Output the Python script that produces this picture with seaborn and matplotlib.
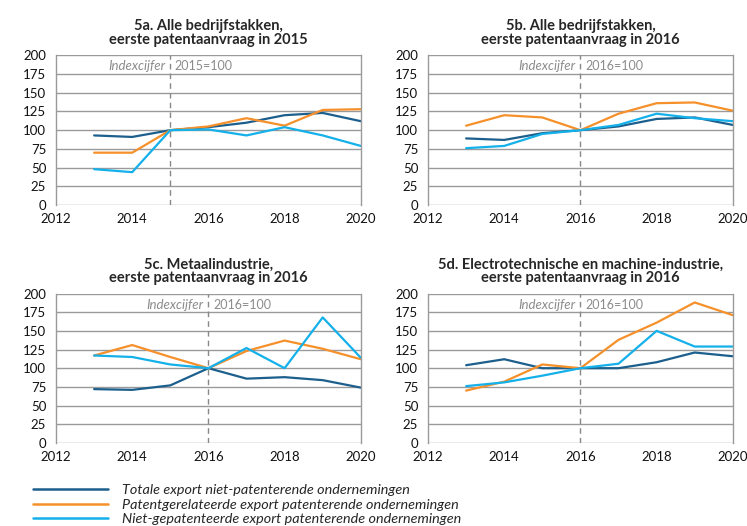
import numpy as np
import pandas as pd
import matplotlib as mpl
mpl.use("Agg")
import matplotlib.pyplot as plt
import seaborn as sns

# data (index, base year = 100)
years = [2013, 2014, 2015, 2016, 2017, 2018, 2019, 2020]
series_names = ['Totale export niet-patenterende ondernemingen',
                'Patentgerelateerde export patenterende ondernemingen',
                'Niet-gepatenteerde export patenterende ondernemingen']

titles = ['5a. Alle bedrijfstakken,\neerste patentaanvraag in 2015',
          '5b. Alle bedrijfstakken,\neerste patentaanvraag in 2016',
          '5c. Metaalindustrie,\neerste patentaanvraag in 2016',
          '5d. Electrotechnische en machine-industrie,\neerste patentaanvraag in 2016']
base_years = [2015, 2016, 2016, 2016]

a_totaal = [93, 91, 100, 104, 110, 120, 123, 112]
a_patent = [70, 70, 100, 105, 116, 106, 127, 128]
a_nietpat = [48, 44, 100, 101, 93, 104, 93, 79]

b_totaal = [89, 87, 96, 100, 105, 115, 117, 107]
b_patent = [106, 120, 117, 100, 122, 136, 137, 126]
b_nietpat = [76, 79, 95, 100, 107, 122, 116, 112]

c_totaal = [72, 71, 77, 100, 86, 88, 84, 74]
c_patent = [117, 131, 115, 100, 123, 137, 126, 112]
c_nietpat = [117, 115, 105, 100, 127, 100, 168, 114]

d_totaal = [104, 112, 100, 100, 100, 108, 121, 116]
d_patent = [70, 82, 105, 100, 138, 161, 188, 171]
d_nietpat = [76, 81, 90, 100, 106, 150, 129, 129]

panels = [(a_totaal, a_patent, a_nietpat),
          (b_totaal, b_patent, b_nietpat),
          (c_totaal, c_patent, c_nietpat),
          (d_totaal, d_patent, d_nietpat)]

colors = ['#1c5f8c', '#f5902a', '#14b0ea']
palette = dict(zip(series_names, colors))

sns.set_style("white")
plt.rcParams['font.family'] = ['Lato', 'DejaVu Sans']

fig = plt.figure(figsize=(7.47, 5.26), dpi=100)

# axes positions in figure fractions (left, bottom, width, height)
positions = [(0.075, 0.610, 0.408, 0.285),
             (0.573, 0.610, 0.408, 0.285),
             (0.075, 0.158, 0.408, 0.284),
             (0.573, 0.158, 0.408, 0.284)]

grid_col = '#9a9a9a'

for i in range(4):
    ax = fig.add_axes(positions[i])
    rows = []
    for name, vals in zip(series_names, panels[i]):
        for y, v in zip(years, vals):
            rows.append({'jaar': y, 'index': v, 'reeks': name})
    df = pd.DataFrame(rows)
    sns.lineplot(data=df, x='jaar', y='index', hue='reeks', palette=palette,
                 linewidth=1.6, legend=False, ax=ax)
    ax.set_xlim(2012, 2020)
    ax.set_ylim(0, 200)
    ax.set_xticks(range(2012, 2021, 2))
    ax.set_yticks(range(0, 201, 25))
    ax.set_xlabel('')
    ax.set_ylabel('')
    ax.yaxis.grid(True, color=grid_col, linewidth=1)
    ax.set_axisbelow(True)
    for s in ['top', 'bottom']:
        ax.spines[s].set_visible(False)
    for s in ['left', 'right']:
        ax.spines[s].set_color(grid_col)
        ax.spines[s].set_linewidth(1)
    ax.tick_params(axis='both', colors=grid_col, length=5, width=1,
                   labelcolor='#111111', labelsize=9.5)
    ax.tick_params(axis='y', pad=2)
    ax.tick_params(axis='x', pad=1)
    ax.axvline(base_years[i], color='#888888', linewidth=1, linestyle=(0, (4, 3)))
    ax.text(base_years[i] - 0.12, 185, 'Indexcijfer', ha='right', va='center',
            color='#8c8c8c', fontsize=9.5, style='italic')
    ax.text(base_years[i] + 0.12, 185, '%d=100' % base_years[i], ha='left',
            va='center', color='#8c8c8c', fontsize=9)
    ax.set_title(titles[i], fontsize=10.5, fontweight='bold', pad=8,
                 linespacing=1.0)

handles = [mpl.lines.Line2D([], [], color=c, linewidth=1.8) for c in colors]
leg = fig.legend(handles, series_names, loc='upper left',
                 bbox_to_anchor=(0.044, 0.080), frameon=False,
                 handlelength=5.2, handletextpad=1.0, labelspacing=0.17,
                 borderpad=0, borderaxespad=0,
                 prop={'style': 'italic', 'size': 10.4})

fig.savefig('out.png', dpi=100)
